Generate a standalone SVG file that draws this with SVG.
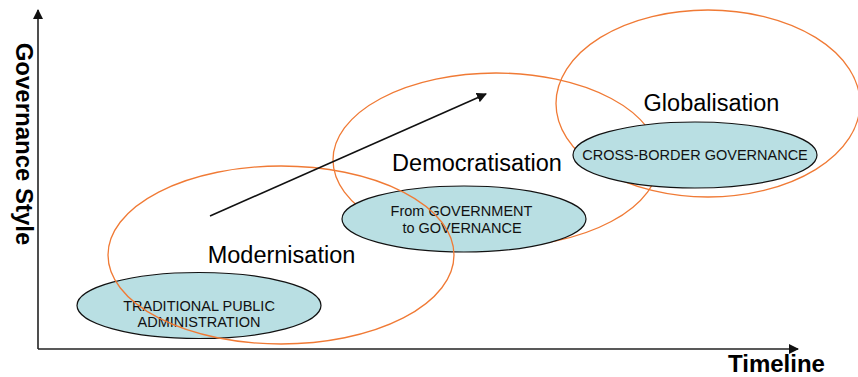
<svg xmlns="http://www.w3.org/2000/svg" width="858" height="377" viewBox="0 0 858 377">
<style>
.orb{fill:none;stroke:#F07A35;stroke-width:1.3}
.tl{fill:#B9DFE3;stroke:#111;stroke-width:1.2}
.nt{font-family:"Liberation Sans",Arial,sans-serif;font-size:14.5px;fill:#111;text-anchor:middle}
.lb{font-family:"Liberation Sans",Arial,sans-serif;font-size:23.5px;fill:#000;text-anchor:middle}
.ax{font-family:"Liberation Sans",Arial,sans-serif;font-size:24px;font-weight:bold;fill:#000;text-anchor:middle}
.axl{stroke:#222;stroke-width:1.6;fill:none}
</style>
<defs>
<marker id="ah" viewBox="0 0 10 10" refX="9" refY="5" markerWidth="10" markerHeight="10" markerUnits="userSpaceOnUse" orient="auto">
<path d="M0,0 L10,5 L0,10 z" fill="#111"/>
</marker>
</defs>
<g id="phase-democratisation-ring"><ellipse class="orb" cx="496" cy="160" rx="163" ry="87"/></g>
<g id="node-traditional"><ellipse class="tl" cx="199" cy="305.5" rx="122" ry="33"/>
<text class="nt" x="199" y="311">TRADITIONAL PUBLIC</text><text class="nt" x="199" y="327">ADMINISTRATION</text></g>
<g id="node-gov"><ellipse class="tl" cx="464" cy="219" rx="122" ry="33"/>
<text class="nt" x="461.5" y="216">From GOVERNMENT</text><text class="nt" x="462" y="233">to GOVERNANCE</text></g>
<g id="phase-modernisation-ring"><ellipse class="orb" cx="281" cy="255" rx="173" ry="89"/></g>
<g id="phase-globalisation-ring"><ellipse class="orb" cx="708" cy="103.5" rx="152" ry="93.5"/></g>
<g id="node-crossborder"><ellipse class="tl" cx="695" cy="155" rx="122" ry="33"/>
<text class="nt" x="695" y="160">CROSS-BORDER GOVERNANCE</text></g>
<g id="labels">
<text class="lb" x="281.5" y="263">Modernisation</text>
<text class="lb" x="477" y="171">Democratisation</text>
<text class="lb" x="711.5" y="111">Globalisation</text>
</g>
<g id="connectors">
<line x1="38" y1="349" x2="38" y2="10" class="axl" marker-end="url(#ah)"/>
<line x1="38" y1="349" x2="798" y2="349" class="axl" marker-end="url(#ah)"/>
<line x1="210" y1="216" x2="486" y2="94" stroke="#111" stroke-width="1.6" marker-end="url(#ah)"/>
</g>
<g id="axis-labels">
<text class="ax" x="776.5" y="372">Timeline</text>
<text class="ax" transform="translate(16,144) rotate(90)">Governance Style</text>
</g>
</svg>
